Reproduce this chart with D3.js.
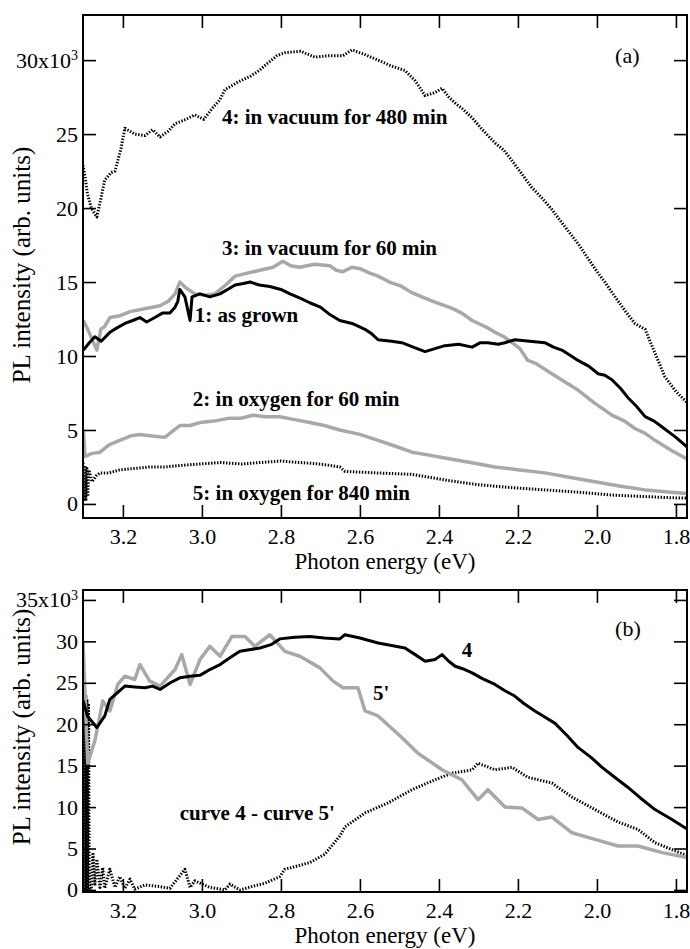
<!DOCTYPE html>
<html>
<head>
<meta charset="utf-8">
<script src="https://cdn.jsdelivr.net/npm/d3@7"></script>
<style>
  body { margin: 0; background: #fff; }
  svg { display: block; }
  svg text { font-family: "Liberation Serif", "Times New Roman", Tinos, "DejaVu Serif", serif; }
</style>
</head>
<body>
<svg id="chart" width="690" height="949"></svg>
<script>
// intensities are in units of 10^3, energies in eV
const xTicks  = [3.2, 3.0, 2.8, 2.6, 2.4, 2.2, 2.0, 1.8];
const yTicksA = [0, 5, 10, 15, 20, 25, 30];
const yTicksB = [0, 5, 10, 15, 20, 25, 30, 35];

// panel (a)
const asGrown = [[3.300,10.4],[3.285,10.9],[3.271,11.3],[3.255,11.0],[3.233,11.6],[3.215,11.9],[3.195,12.2],
  [3.175,12.4],[3.157,12.6],[3.140,12.3],[3.119,12.6],[3.100,12.9],[3.081,12.9],[3.068,13.3],[3.061,13.7],
  [3.056,14.5],[3.043,14.0],[3.030,12.4],[3.025,14.0],[3.005,14.2],[2.980,14.0],[2.954,14.2],[2.935,14.5],
  [2.916,14.8],[2.895,14.9],[2.878,15.0],[2.855,14.8],[2.828,14.7],[2.800,14.5],[2.777,14.2],[2.750,13.9],
  [2.727,13.6],[2.700,13.3],[2.676,12.8],[2.651,12.4],[2.620,12.2],[2.587,11.8],[2.570,11.5],[2.554,11.1],
  [2.520,11.0],[2.494,10.9],[2.465,10.6],[2.435,10.3],[2.410,10.5],[2.385,10.7],[2.350,10.8],[2.316,10.6],
  [2.295,10.9],[2.276,10.9],[2.250,10.8],[2.233,10.9],[2.208,11.1],[2.170,11.0],[2.132,10.9],[2.110,10.6],
  [2.089,10.4],[2.065,10.0],[2.048,9.7],[2.020,9.3],[1.997,8.8],[1.980,8.7],[1.962,8.4],[1.940,7.8],
  [1.922,7.2],[1.900,6.6],[1.878,5.9],[1.855,5.6],[1.835,5.2],[1.800,4.5],[1.770,3.8]];

const oxygen60 = [[3.300,5.0],[3.296,3.2],[3.280,3.4],[3.258,3.5],[3.235,4.0],[3.208,4.3],[3.180,4.6],
  [3.157,4.7],[3.125,4.6],[3.094,4.5],[3.070,5.0],[3.056,5.3],[3.030,5.3],[3.005,5.5],[2.970,5.6],
  [2.929,5.8],[2.900,5.8],[2.871,6.0],[2.840,5.9],[2.803,5.9],[2.765,5.7],[2.727,5.5],[2.690,5.3],
  [2.651,5.0],[2.600,4.7],[2.554,4.3],[2.510,3.9],[2.468,3.5],[2.425,3.3],[2.385,3.1],[2.320,2.8],
  [2.258,2.5],[2.195,2.3],[2.132,2.1],[2.070,1.8],[2.005,1.5],[1.940,1.2],[1.878,0.95],[1.820,0.8],[1.770,0.7]];

const vacuum60 = [[3.300,12.4],[3.289,11.8],[3.266,10.4],[3.256,11.8],[3.246,12.0],[3.233,12.6],[3.210,12.7],
  [3.182,13.0],[3.145,13.2],[3.106,13.4],[3.085,13.7],[3.068,14.2],[3.056,15.0],[3.040,14.6],[3.018,14.2],
  [2.990,14.1],[2.967,14.2],[2.940,14.8],[2.916,15.4],[2.885,15.6],[2.853,15.8],[2.820,16.0],[2.795,16.4],
  [2.775,16.1],[2.752,16.0],[2.715,16.2],[2.676,16.1],[2.660,15.8],[2.643,15.7],[2.620,16.0],[2.600,15.9],
  [2.575,15.6],[2.554,15.4],[2.525,15.0],[2.494,14.7],[2.470,14.3],[2.443,14.0],[2.415,13.7],[2.385,13.4],
  [2.365,13.2],[2.342,12.9],[2.316,12.4],[2.276,11.9],[2.258,11.6],[2.235,11.3],[2.215,10.9],[2.195,10.5],
  [2.175,9.7],[2.155,9.5],[2.132,9.1],[2.090,8.4],[2.048,7.7],[2.005,6.8],[1.962,6.0],[1.930,5.6],
  [1.904,5.1],[1.880,4.8],[1.853,4.3],[1.810,3.6],[1.770,3.0]];

const vacuum480 = [[3.301,22.9],[3.295,22.0],[3.290,21.0],[3.280,20.0],[3.266,19.4],[3.256,20.6],[3.246,21.9],
  [3.230,22.4],[3.220,22.5],[3.205,24.0],[3.195,25.4],[3.170,25.0],[3.144,24.9],[3.125,25.3],[3.106,24.8],
  [3.085,25.2],[3.068,25.7],[3.040,26.0],[3.018,26.3],[2.995,26.0],[2.972,26.8],[2.955,27.3],[2.942,28.0],
  [2.910,28.5],[2.878,28.9],[2.855,29.3],[2.833,29.8],[2.810,30.3],[2.790,30.5],[2.750,30.6],[2.714,30.2],
  [2.680,30.3],[2.643,30.3],[2.620,30.7],[2.590,30.4],[2.554,30.0],[2.520,29.6],[2.486,29.3],[2.460,28.6],
  [2.435,27.6],[2.410,27.8],[2.392,28.1],[2.375,27.5],[2.359,27.1],[2.340,26.7],[2.316,26.1],[2.290,25.3],
  [2.258,24.4],[2.235,23.9],[2.215,23.2],[2.190,22.3],[2.165,21.4],[2.140,20.7],[2.114,19.9],[2.080,18.7],
  [2.048,17.6],[2.020,16.5],[1.997,15.6],[1.980,15.0],[1.962,14.3],[1.930,13.1],[1.904,12.2],[1.878,11.8],
  [1.850,10.0],[1.828,8.6],[1.800,7.6],[1.770,6.8]];

const oxygen840 = [[3.301,2.8],[3.299,0.3],[3.296,2.6],[3.294,0.2],[3.291,2.4],[3.289,0.5],[3.286,2.3],
  [3.278,1.5],[3.268,1.9],[3.258,2.1],[3.235,2.1],[3.208,2.3],[3.170,2.4],[3.132,2.5],[3.095,2.5],
  [3.056,2.6],[3.005,2.7],[2.954,2.8],[2.900,2.7],[2.853,2.8],[2.800,2.9],[2.752,2.8],[2.700,2.7],
  [2.651,2.5],[2.638,2.2],[2.560,2.1],[2.468,2.0],[2.380,1.6],[2.301,1.3],[2.215,1.1],[2.132,0.95],
  [2.050,0.8],[1.962,0.6],[1.880,0.5],[1.795,0.4],[1.772,0.4]];

// panel (b)
const curve4 = [[3.301,22.9],[3.290,21.0],[3.266,19.6],[3.246,21.0],[3.233,23.0],[3.195,24.6],[3.170,24.5],
  [3.144,24.4],[3.125,24.6],[3.106,24.2],[3.080,25.0],[3.056,25.6],[3.030,25.8],[3.005,25.9],[2.980,26.6],
  [2.954,27.2],[2.930,28.0],[2.904,28.8],[2.880,29.0],[2.853,29.2],[2.825,29.6],[2.803,30.3],[2.765,30.5],
  [2.727,30.6],[2.690,30.4],[2.651,30.3],[2.638,30.8],[2.600,30.4],[2.554,29.8],[2.520,29.5],[2.486,29.2],
  [2.460,28.4],[2.435,27.6],[2.410,27.8],[2.392,28.4],[2.375,27.6],[2.359,27.0],[2.340,26.7],[2.316,26.2],
  [2.290,25.5],[2.258,24.8],[2.235,24.1],[2.208,23.4],[2.185,22.5],[2.157,21.6],[2.130,20.8],[2.106,20.1],
  [2.075,18.6],[2.048,17.2],[2.015,16.0],[1.987,14.8],[1.955,13.6],[1.922,12.4],[1.890,11.1],[1.853,9.7],
  [1.810,8.5],[1.770,7.3]];

const curve5p = [[3.301,30.0],[3.289,15.3],[3.271,18.0],[3.251,22.8],[3.233,21.6],[3.213,24.8],[3.195,25.8],
  [3.170,25.4],[3.157,27.2],[3.132,25.2],[3.106,24.6],[3.068,26.6],[3.051,28.4],[3.030,24.8],[3.005,27.8],
  [2.980,29.4],[2.954,28.2],[2.924,30.6],[2.891,30.6],[2.866,29.4],[2.828,30.8],[2.790,28.8],[2.752,28.2],
  [2.701,26.8],[2.668,25.2],[2.643,24.4],[2.605,24.4],[2.587,21.6],[2.554,21.0],[2.494,18.4],[2.453,16.5],
  [2.392,14.5],[2.342,13.3],[2.301,10.9],[2.276,12.1],[2.233,10.0],[2.190,9.9],[2.149,8.5],[2.114,8.8],
  [2.063,6.9],[2.005,6.1],[1.947,5.3],[1.896,5.3],[1.835,4.5],[1.770,3.9]];

const difference = [[3.301,0],[3.300,23.5],[3.298,0],[3.297,23.5],[3.295,0],[3.294,23.5],[3.292,0],
  [3.291,23.0],[3.289,0],[3.287,22.5],[3.285,0],[3.280,0],[3.276,4.5],[3.271,0.5],[3.266,3.7],[3.258,0.3],
  [3.251,2.7],[3.246,0.2],[3.233,2.5],[3.220,0.3],[3.208,1.6],[3.195,0.2],[3.182,1.3],[3.170,0.1],
  [3.144,0.6],[3.106,0.4],[3.081,0.2],[3.043,2.5],[3.030,0.3],[3.018,1.1],[2.980,0.3],[2.942,0.0],
  [2.929,0.7],[2.904,0.0],[2.866,0.5],[2.841,0.8],[2.803,1.6],[2.790,2.5],[2.765,2.8],[2.727,3.3],
  [2.689,4.3],[2.651,6.5],[2.638,7.6],[2.587,9.3],[2.529,10.5],[2.468,12.1],[2.410,13.3],[2.367,14.1],
  [2.316,14.5],[2.301,15.3],[2.258,14.5],[2.215,14.8],[2.175,13.6],[2.114,12.9],[2.063,11.2],[2.005,9.7],
  [1.947,8.2],[1.896,7.3],[1.853,5.7],[1.770,4.1]];

// annotation text, anchored at [energy, intensity]
const labelsA = [
  { text: '4: in vacuum for 480 min', at: [2.949, 25.7] },
  { text: '3: in vacuum for 60 min',  at: [2.949, 16.8] },
  { text: '1: as grown',              at: [3.018, 12.3] },
  { text: '2: in oxygen for 60 min',  at: [3.023, 6.6] },
  { text: '5: in oxygen for 840 min', at: [3.023, 0.27] }
];
const labelsB = [
  { text: '4',                  at: [2.342, 28.1] },
  { text: "5'",                 at: [2.567, 22.9] },
  { text: "curve 4 - curve 5'", at: [3.056, 8.4] }
];

const GRAY = '#a8a8a8';
const DOTS = '1.4 1.6';
const svg = d3.select('#chart');
const L = 83, R = 687;
const x = d3.scaleLinear().domain([3.301, 1.772]).range([L, R]);

function drawPanel(id, top, bottom, yDomain, yTicks, series, labels, tag, tagAt, yTitleMid) {
  const y = d3.scaleLinear().domain(yDomain).range([bottom, top]);
  const g = svg.append('g');

  g.append('clipPath').attr('id', 'clip-' + id)
    .append('rect').attr('x', L).attr('y', top).attr('width', R - L).attr('height', bottom - top);

  // a) curves
  const line = d3.line().x(d => x(d[0])).y(d => y(d[1]));
  const plot = g.append('g').attr('clip-path', `url(#clip-${id})`);
  series.forEach(s => {
    plot.append('path')
      .datum(s.data)
      .attr('d', line)
      .attr('fill', 'none')
      .attr('stroke', s.color)
      .attr('stroke-width', s.width)
      .attr('stroke-dasharray', s.dash || null)
      .attr('stroke-linejoin', 'round');
  });

  // b) axes, ticks pointing inward on all four sides
  const maxTick = d3.max(yTicks);
  const left = g.append('g').attr('transform', `translate(${L},0)`)
    .call(d3.axisLeft(y).tickValues(yTicks).tickSize(-13).tickPadding(5));
  g.append('g').attr('transform', `translate(${R},0)`)
    .call(d3.axisRight(y).tickValues(yTicks).tickSize(-13).tickFormat(''));
  g.append('g').attr('transform', `translate(0,${bottom})`)
    .call(d3.axisBottom(x).tickValues(xTicks).tickSize(-13).tickPadding(10).tickFormat(d3.format('.1f')));
  g.append('g').attr('transform', `translate(0,${top})`)
    .call(d3.axisTop(x).tickValues(xTicks).tickSize(-13).tickFormat(''));

  g.selectAll('.domain').remove();
  g.selectAll('g.tick line').attr('stroke', '#000').attr('stroke-width', 1.6);
  g.selectAll('g.tick text').attr('font-size', 22).attr('font-family', null).attr('fill', '#000');

  // top label gets the x10^3 multiplier
  left.selectAll('g.tick text').filter(d => d === maxTick).each(function (d) {
    const t = d3.select(this).text(d + 'x10');
    t.append('tspan').attr('dy', '-0.55em').attr('font-size', 14).text('3');
  });

  g.append('rect').attr('x', L).attr('y', top).attr('width', R - L).attr('height', bottom - top)
    .attr('fill', 'none').attr('stroke', '#000').attr('stroke-width', 2);

  // c) titles
  g.append('text').attr('x', (L + R) / 2).attr('y', bottom + 51).attr('text-anchor', 'middle')
    .attr('font-size', 23).text('Photon energy (eV)');
  g.append('text').attr('transform', `translate(30,${yTitleMid}) rotate(-90)`)
    .attr('text-anchor', 'middle').attr('font-size', 25).text('PL intensity (arb. units)');

  // d) annotations
  g.selectAll('text.note').data(labels).join('text').attr('class', 'note')
    .attr('x', d => x(d.at[0])).attr('y', d => y(d.at[1]))
    .attr('font-size', 21).attr('font-weight', 'bold').text(d => d.text);
  g.append('text').attr('x', x(tagAt[0])).attr('y', y(tagAt[1])).attr('font-size', 22).text(tag);
}

drawPanel('a', 15, 518, [-0.95, 33.05], yTicksA, [
  { data: oxygen840, color: '#000', width: 3, dash: DOTS },
  { data: oxygen60,  color: GRAY,   width: 3.5 },
  { data: vacuum480, color: '#000', width: 3, dash: DOTS },
  { data: vacuum60,  color: GRAY,   width: 3.5 },
  { data: asGrown,   color: '#000', width: 3 }
], labelsA, '(a)', [1.954, 29.8], 265);

drawPanel('b', 590, 892, [-0.25, 36.2], yTicksB, [
  { data: difference, color: '#000', width: 3, dash: DOTS },
  { data: curve5p,    color: GRAY,   width: 3.5 },
  { data: curve4,     color: '#000', width: 3 }
], labelsB, '(b)', [1.954, 30.6], 727);
</script>
</body>
</html>
